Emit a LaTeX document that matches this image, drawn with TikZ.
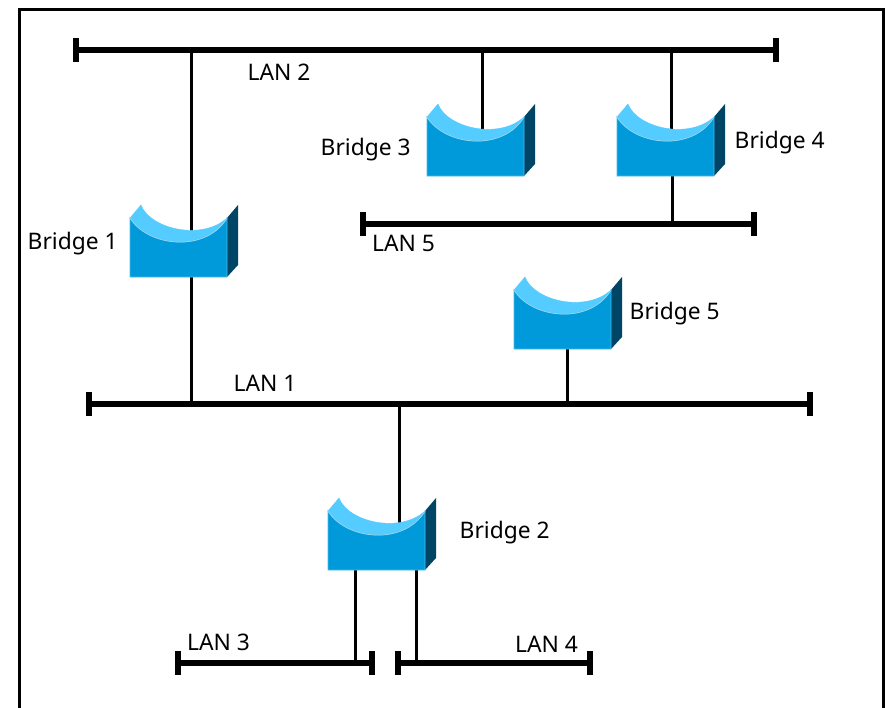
\documentclass[tikz,border=0pt]{standalone}
\usepackage{fontspec}
\setmainfont{Noto Sans}
\definecolor{bfront}{HTML}{0099D9}
\definecolor{blight}{HTML}{55CCFF}
\definecolor{bside}{HTML}{004466}
\definecolor{bedge}{HTML}{4DBDEB}
\tikzset{
  lanbar/.style={fill=black,inner sep=0pt,minimum height=6pt,draw=none,rectangle},
  lancap/.style={line width=6.5pt,line cap=butt},
  wire/.style={line width=3pt,black},
  lbl/.style={font=\fontsize{22.8}{26}\selectfont,inner sep=0pt,anchor=west,text=black},
  bbody/.style={inner sep=0pt,minimum width=97pt,minimum height=59pt,rectangle},
}
% name, left x, bottom y of the front face
\newcommand{\bridgeshape}[3]{%
  \begin{scope}[shift={(#2,#3)}]
    \fill[bside] (97,-59) -- (108,-72) -- (108,-12) -- (97,0) -- cycle;
    \fill[blight,draw=blight,line width=.4pt] (0,-59) -- (11,-72)
       .. controls (20,-48) and (72,-36) .. (97,-59)
       .. controls (76,-24) and (18,-30) .. (0,-59) -- cycle;
    \fill[bfront,draw=bedge,line width=.8pt] (0,-59)
       .. controls (18,-30) and (76,-24) .. (97,-59) -- (97,0) -- (0,0) -- cycle;
    \draw[bedge!60!white,line width=.7pt] (0,-59) .. controls (18,-30) and (76,-24) .. (97,-59);
  \end{scope}
  \node[bbody] (#1) at (#2+48.5,#3-29.5) {};
}
\newcommand{\lanline}[4]{% name, x1, x2, y
  \node[lanbar,minimum width={#3-#2}] (#1) at ({(#2+#3)/2},#4) {};
  \draw[lancap] (#1.west)+(0,-12) -- +(0,12);
  \draw[lancap] (#1.east)+(0,-12) -- +(0,12);
}
\begin{document}
\begin{tikzpicture}[x=1pt,y=-1pt]
  \useasboundingbox (0,0) rectangle (885,707);
  \fill[white] (0,0) rectangle (885,707);
  \draw[line width=3.5pt] (19.5,720) -- (19.5,9.5) -- (883.5,9.5) -- (883.5,720);

  \lanline{lan2}{76}{776}{50}
  \lanline{lan1}{89}{810}{404}
  \lanline{lan5}{363}{754}{224}
  \lanline{lan3}{178}{372}{663}
  \lanline{lan4}{398}{590}{663}

  % port positions on the bridges
  \coordinate (p1) at (191,240);
  \coordinate (p3) at (482,140);
  \coordinate (p4) at (671,140);
  \coordinate (p5) at (567,330);
  \coordinate (p2) at (399,540);
  \coordinate (p2a) at (355,550);
  \coordinate (p2b) at (416,550);
  \coordinate (p4b) at (672,160);

  \draw[wire] (p1 |- lan2) -- (p1);
  \draw[wire] (p1) -- (p1 |- lan1);
  \draw[wire] (p3 |- lan2) -- (p3);
  \draw[wire] (p4 |- lan2) -- (p4);
  \draw[wire] (p4b) -- (p4b |- lan5);
  \draw[wire] (p5) -- (p5 |- lan1);
  \draw[wire] (p2 |- lan1) -- (p2);
  \draw[wire] (p2a) -- (p2a |- lan3);
  \draw[wire] (p2b) -- (p2b |- lan4);

  \bridgeshape{b1}{130}{277}
  \bridgeshape{b3}{427}{176}
  \bridgeshape{b4}{617}{176}
  \bridgeshape{b5}{514}{349}
  \bridgeshape{b2}{328}{570}

  \node[lbl] (t1) at (27.5,244) {Bridge 1};
  \node[lbl] (t3) at (320.5,150) {Bridge 3};
  \node[lbl] (t4) at (734.5,143) {Bridge 4};
  \node[lbl] (t5) at (629.5,314) {Bridge 5};
  \node[lbl] (t2) at (459.5,533) {Bridge 2};
  \node[lbl] (l2) at (247.5,72) {LAN 2};
  \node[lbl] (l5) at (372,243) {LAN 5};
  \node[lbl] (l1) at (233.5,383) {LAN 1};
  \node[lbl] (l3) at (187,642) {LAN 3};
  \node[lbl] (l4) at (515,644) {LAN 4};
\end{tikzpicture}
\end{document}
